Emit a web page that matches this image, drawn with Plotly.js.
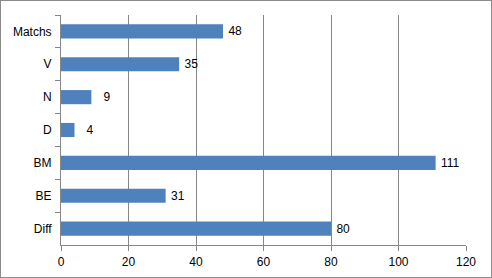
<!DOCTYPE html>
<html><head><meta charset="utf-8">
<script src="https://cdn.plot.ly/plotly-3.0.1.min.js"></script>
<style>
html,body{margin:0;padding:0;background:#fff;}
#chart{width:492px;height:278px;box-sizing:border-box;border:1px solid #8c8c8c;}
</style></head>
<body><div id="chart"></div>
<script>
var categories = ["Matchs", "V", "N", "D", "BM", "BE", "Diff"];
var values = [48, 35, 9, 4, 111, 31, 80];
var xTicks = [0, 20, 40, 60, 80, 100, 120];

var trace = {
  type: "bar",
  orientation: "h",
  y: categories,
  x: values,
  text: values.map(function (v) { return "\u2009" + String(v).padStart(2, "\u2007"); }),
  textposition: "outside",
  cliponaxis: false,
  textfont: {family: "Liberation Sans, Arial, sans-serif", size: 12, color: "#000"},
  marker: {color: "#4f81bd"},
  width: 0.43,
  hoverinfo: "none"
};

var layout = {
  width: 490, height: 276,
  margin: {l: 60, r: 25, t: 14, b: 32},
  paper_bgcolor: "#fff", plot_bgcolor: "#fff",
  showlegend: false,
  font: {family: "Liberation Sans, Arial, sans-serif", size: 12, color: "#000"},
  xaxis: {
    range: [0, 120], tickvals: xTicks, ticktext: xTicks.map(String),
    showgrid: true, gridcolor: "#878787", gridwidth: 1,
    showline: true, linecolor: "#878787", linewidth: 1,
    ticks: "outside", ticklen: 5, tickcolor: "#878787",
    zeroline: false, fixedrange: true, ticklabelstandoff: 1
  },
  yaxis: {
    type: "category", autorange: "reversed",
    showgrid: false, showline: true, linecolor: "#878787", linewidth: 1,
    ticks: "outside", ticklen: 5, tickcolor: "#878787", tickson: "boundaries",
    zeroline: false, fixedrange: true, ticklabelstandoff: 6
  }
};

Plotly.newPlot("chart", [trace], layout, {displayModeBar: false, staticPlot: true});
</script>
</body></html>
